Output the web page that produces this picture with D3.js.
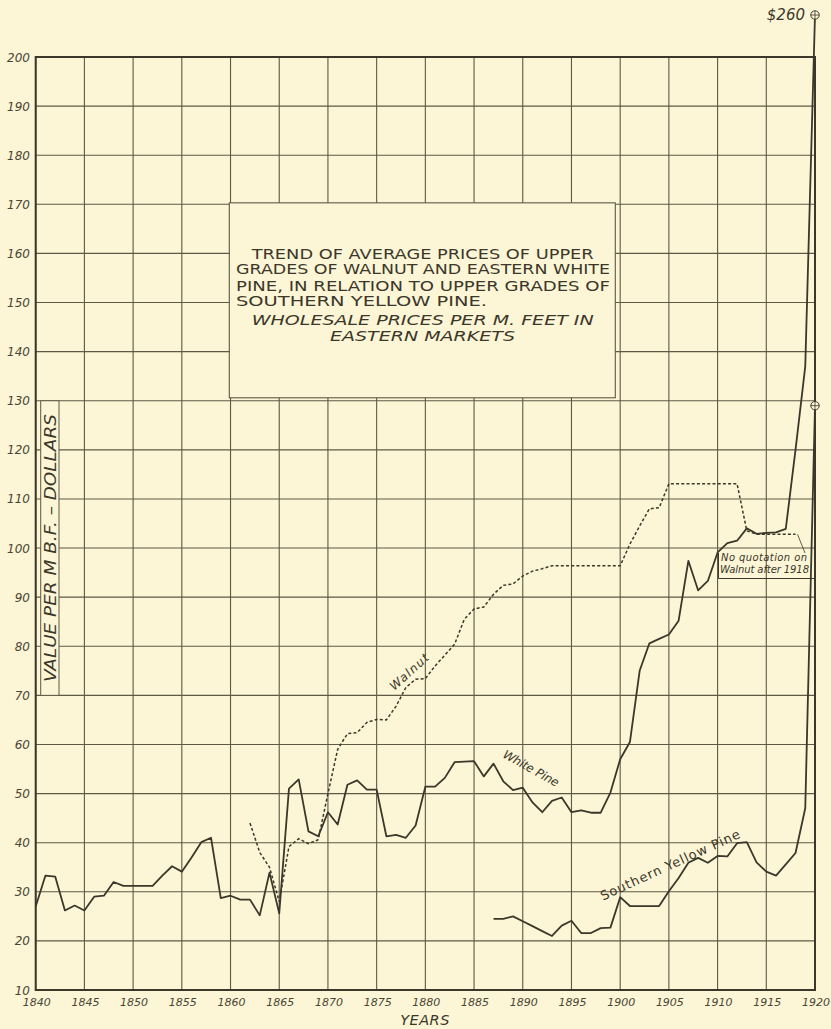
<!DOCTYPE html>
<html><head><meta charset="utf-8">
<script src="https://cdn.jsdelivr.net/npm/d3@7"></script>
<style>html,body{margin:0;padding:0;background:#fcf6d6;}svg{display:block;}</style>
</head><body>
<svg id="c" width="831" height="1029"></svg>
<script>
// ---------- data ----------
const xTicks = [1840,1845,1850,1855,1860,1865,1870,1875,1880,1885,1890,1895,1900,1905,1910,1915,1920];
const yTicks = [10,20,30,40,50,60,70,80,90,100,110,120,130,140,150,160,170,180,190,200];

const whitePineYears = d3.range(1840, 1921);
const whitePineValues = [27,33.3,33.1,26.2,27.2,26.2,29,29.2,32,31.2,
  31.2,31.2,31.2,33.3,35.2,34.1,37,40.1,41,28.7,
  29.2,28.4,28.4,25.2,33.9,25.6,51,52.9,42.3,41.3,
  46.2,43.7,51.8,52.7,50.8,50.8,41.3,41.6,41,43.5,
  51.4,51.4,53.2,56.4,56.5,56.6,53.5,56.1,52.5,50.7,
  51.2,48.2,46.2,48.5,49.2,46.2,46.6,46.1,46.1,50.2,
  57,60.5,75,80.6,81.5,82.4,85.2,97.4,91.4,93.3,
  99.1,101,101.5,104,102.9,103.1,103.2,103.9,120,137,
  260];

const walnutYears = d3.range(1862, 1919);
const walnutValues = [44,38,35,28,39.2,40.8,39.8,40.6,
  50,59,62.2,62.4,64.5,65.1,65,67.8,71.6,73.3,
  73.4,76,78.2,80.4,85.5,87.6,88,90.6,92.4,92.7,
  94.3,95.3,95.8,96.4,96.4,96.4,96.4,96.4,96.4,96.4,
  96.4,100.8,104.5,108,108.2,113.1,113.1,113.1,113.1,113.1,
  113.1,113.1,113.1,103.5,102.8,102.8,102.8,102.8,102.8];

const sypYears = d3.range(1887, 1921);
const sypValues = [24.5,24.5,25,24,23,22,21,23.1,24.1,21.6,21.6,22.6,22.7,
  28.9,27.1,27.1,27.1,27.1,30.1,32.8,35.9,36.9,35.9,
  37.3,37.2,39.9,40.1,36,34.1,33.3,35.6,37.9,47,129];

const titleLines = ["TREND OF AVERAGE PRICES OF UPPER","GRADES OF WALNUT AND EASTERN WHITE",
  "PINE, IN RELATION TO UPPER GRADES OF","SOUTHERN YELLOW PINE."];
const subtitleLines = ["WHOLESALE  PRICES PER M. FEET IN","EASTERN MARKETS"];
const offScaleLabel = "$260";

// ---------- layout ----------
const ink = "#3b372a", grid = "#5e5846", bg = "#fcf6d6";
const svg = d3.select("#c");
svg.append("rect").attr("width",831).attr("height",1029).attr("fill",bg);
const x = d3.scaleLinear().domain([1840,1920]).range([35.7,815]);
const y = d3.scaleLinear().domain([10,200]).range([990,57]);
const topCapY = 15;

// gridlines
const g = svg.append("g");
g.selectAll("line.v").data(xTicks).join("line")
  .attr("x1",d=>x(d)).attr("x2",d=>x(d)).attr("y1",y(10)).attr("y2",y(200))
  .attr("stroke",grid).attr("stroke-width",1.1);
g.selectAll("line.h").data(yTicks).join("line")
  .attr("x1",x(1840)).attr("x2",x(1920)).attr("y1",d=>y(d)).attr("y2",d=>y(d))
  .attr("stroke",grid).attr("stroke-width",1.1);
// frame
svg.append("rect").attr("x",x(1840)).attr("y",y(200)).attr("width",x(1920)-x(1840)).attr("height",y(10)-y(200))
  .attr("fill","none").attr("stroke",ink).attr("stroke-width",2);

// tick labels
svg.append("g").selectAll("text").data(yTicks).join("text")
  .attr("x",30).attr("y",d=>y(d)+4.5).attr("text-anchor","end")
  .attr("font-family","DejaVu Sans").attr("font-style","italic").attr("font-size",12)
  .attr("fill","#4a4535").text(d=>d);
svg.append("g").selectAll("text").data(xTicks).join("text")
  .attr("x",d=>x(d)+1).attr("y",1006).attr("text-anchor","middle")
  .attr("font-family","DejaVu Sans").attr("font-style","italic").attr("font-size",11)
  .attr("fill","#4a4535").text(d=>d);
svg.append("text").attr("x",425).attr("y",1025).attr("text-anchor","middle")
  .attr("font-family","DejaVu Sans").attr("font-style","italic").attr("font-size",14.5)
  .attr("fill",ink).attr("letter-spacing",0.5).text("YEARS");

// y-axis title box
svg.append("rect").attr("x",40.7).attr("y",y(130)).attr("width",18.3).attr("height",y(70)-y(130))
  .attr("fill",bg).attr("stroke",grid).attr("stroke-width",1);
svg.append("text").attr("transform",`translate(55.5,${(y(130)+y(70))/2}) rotate(-90)`)
  .attr("text-anchor","middle").attr("font-family","DejaVu Sans").attr("font-style","italic")
  .attr("font-size",15).attr("fill",ink).attr("textLength",268).attr("lengthAdjust","spacingAndGlyphs")
  .text("VALUE PER M B.F. – DOLLARS");

// title box
svg.append("rect").attr("x",229.3).attr("y",y(170.3)).attr("width",386).attr("height",y(130.6)-y(170.3))
  .attr("fill",bg).attr("stroke",grid).attr("stroke-width",1.1);
const tl = [[251.7,258.5,342],[236,274,374],[236,290.5,374],[236,305.5,251]];
titleLines.forEach((t,i)=>{
  svg.append("text").attr("x",tl[i][0]).attr("y",tl[i][1]).attr("font-family","DejaVu Sans")
    .attr("font-size",14).attr("fill",ink).attr("textLength",tl[i][2]).attr("lengthAdjust","spacingAndGlyphs").text(t);
});
const sl = [[251.7,324.5,342],[330,340.5,185]];
subtitleLines.forEach((t,i)=>{
  svg.append("text").attr("x",sl[i][0]).attr("y",sl[i][1]).attr("font-family","DejaVu Sans").attr("font-style","italic")
    .attr("font-size",14).attr("fill",ink).attr("textLength",sl[i][2]).attr("lengthAdjust","spacingAndGlyphs").text(t);
});

// lines
const line = d3.line().x(d=>x(d[0])).y(d=>Math.max(y(d[1]),topCapY));
const wp = whitePineYears.map((yr,i)=>[yr,whitePineValues[i]]);
const wn = walnutYears.map((yr,i)=>[yr,walnutValues[i]]);
const sy = sypYears.map((yr,i)=>[yr,sypValues[i]]);
svg.append("path").attr("d",line(wn)).attr("fill","none").attr("stroke",ink)
  .attr("stroke-width",1.5).attr("stroke-dasharray","3,2.2");
svg.append("path").attr("d",line(sy)).attr("fill","none").attr("stroke",ink).attr("stroke-width",1.8).attr("stroke-linejoin","round");
svg.append("path").attr("d",line(wp)).attr("fill","none").attr("stroke",ink).attr("stroke-width",1.8).attr("stroke-linejoin","round");

// off-scale markers
function cross(cx,cy){
  const m = svg.append("g").attr("transform",`translate(${cx},${cy})`);
  m.append("circle").attr("r",4.2).attr("fill",bg).attr("stroke",ink).attr("stroke-width",1);
  m.append("line").attr("x1",-4.2).attr("x2",4.2).attr("stroke",ink).attr("stroke-width",0.8);
  m.append("line").attr("y1",-4.2).attr("y2",4.2).attr("stroke",ink).attr("stroke-width",0.8);
}
cross(x(1920), topCapY);
cross(x(1920), y(sypValues[sypValues.length-1]));
svg.append("text").attr("x",805).attr("y",topCapY+5).attr("text-anchor","end")
  .attr("font-family","DejaVu Sans").attr("font-style","italic").attr("font-size",15).attr("fill",ink).text(offScaleLabel);

// series labels
function lab(t,cx,cy,ang,fs,italic,len){
  const e = svg.append("text").attr("transform",`translate(${cx},${cy}) rotate(${ang})`).attr("text-anchor","middle")
    .attr("font-family","DejaVu Sans").attr("font-size",fs).attr("fill",ink);
  if(italic) e.attr("font-style","italic");
  if(len) e.attr("textLength",len).attr("lengthAdjust","spacing");
  e.text(t);
}
lab("Walnut",412,675,-42,12,true,48);
lab("White Pine",529,772,29,12,true,62);
lab("Southern Yellow Pine",672,869,-24.6,13,false,152);

// walnut note
svg.append("path").attr("d",`M${x(1918)+2},${y(102.8)} L805,553`).attr("stroke",ink).attr("stroke-width",0.8).attr("fill","none");
svg.append("path").attr("d","M718.5,553 V578.5 H815").attr("stroke",ink).attr("stroke-width",1).attr("fill","none");
svg.append("text").attr("x",721).attr("y",561).attr("font-family","DejaVu Sans").attr("font-style","italic")
  .attr("font-size",10).attr("fill",ink).attr("textLength",86).attr("lengthAdjust","spacing").text("No quotation on");
svg.append("text").attr("x",720).attr("y",572.5).attr("font-family","DejaVu Sans").attr("font-style","italic")
  .attr("font-size",10).attr("fill",ink).attr("textLength",89).attr("lengthAdjust","spacing").text("Walnut after 1918");
</script>
</body></html>
